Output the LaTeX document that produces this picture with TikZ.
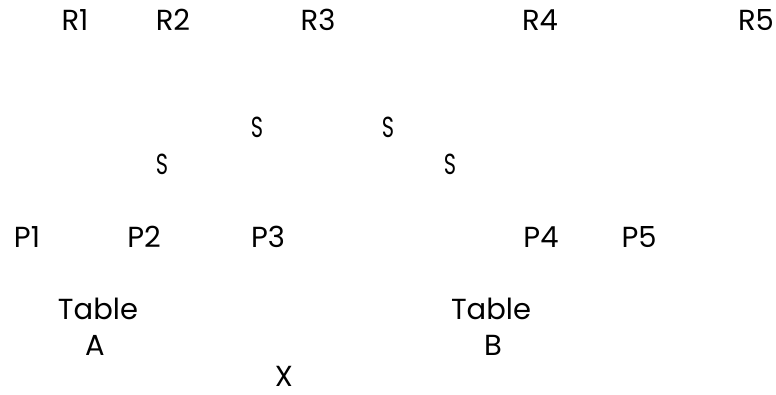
\documentclass[tikz,border=0pt]{standalone}
\usepackage{fontspec}
\setmainfont{Poppins}
\begin{document}
\begin{tikzpicture}[x=1pt,y=1pt,
  lbl/.style={inner sep=0pt,anchor=base,text depth=0pt,font=\fontsize{29}{32}\selectfont},
  slbl/.style={inner sep=0pt,anchor=base,text depth=0pt,font=\fontsize{29}{32}\selectfont,xscale=0.72}]
\useasboundingbox (0,0) rectangle (776,394);
\fill[white] (0,0) rectangle (776,394);
% R row
\node[lbl] (r1) at (75,363) {R1};
\node[lbl] (r2) at (173,363) {R2};
\node[lbl] (r3) at (318,363) {R3};
\node[lbl] (r4) at (540,363) {R4};
\node[lbl] (r5) at (756,363) {R5};
% S
\node[slbl] (s1) at (257,256) {S};
\node[slbl] (s2) at (388,256) {S};
\node[slbl] (s3) at (162,219) {S};
\node[slbl] (s4) at (450,219) {S};
% P row
\node[lbl] (p1) at (27,147) {P1};
\node[lbl] (p2) at (144,147) {P2};
\node[lbl] (p3) at (268,147) {P3};
\node[lbl] (p4) at (541,147) {P4};
\node[lbl] (p5) at (639,147) {P5};
% tables
\node[lbl] (ta) at (98,75) {Table};
\node[lbl] (a) at (95,39) {A};
\node[lbl] (tb) at (491,75) {Table};
\node[lbl] (b) at (493,39) {B};
\node[lbl] (x) at (284,8) {X};
\end{tikzpicture}
\end{document}
